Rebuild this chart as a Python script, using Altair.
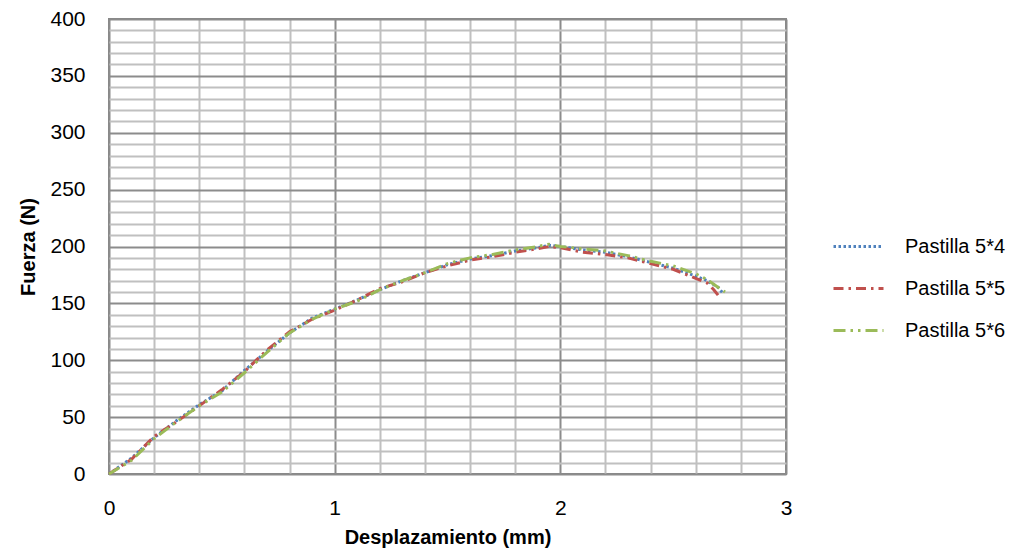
import altair as alt
import pandas as pd

series_names = ["Pastilla 5*4", "Pastilla 5*5", "Pastilla 5*6"]

x_54 = [0, 0.1, 0.2, 0.3, 0.4, 0.5, 0.6, 0.7, 0.8, 0.9, 1.0, 1.1, 1.2, 1.3, 1.4, 1.5, 1.6, 1.7, 1.8, 1.9, 1.95, 2.0, 2.1, 2.2, 2.3, 2.4, 2.5, 2.6, 2.65, 2.7, 2.72]
y_54 = [0, 14, 32, 47, 61, 73, 91, 108, 124, 137, 145, 153, 162, 170, 177, 184, 189, 192, 196, 199, 201, 200, 197, 195, 191, 186, 181, 174, 170, 164, 159]

x_55 = [0, 0.1, 0.2, 0.3, 0.4, 0.5, 0.6, 0.7, 0.8, 0.9, 1.0, 1.1, 1.2, 1.3, 1.4, 1.5, 1.6, 1.7, 1.8, 1.9, 1.95, 2.0, 2.1, 2.2, 2.3, 2.4, 2.5, 2.6, 2.65, 2.68, 2.7]
y_55 = [0, 13, 33, 46, 60, 74, 90, 109, 125, 136, 144, 153, 163, 169, 177, 183, 188, 191, 195, 198, 200, 199, 195, 193, 190, 185, 180, 172, 168, 162, 157]

x_56 = [0, 0.1, 0.2, 0.3, 0.4, 0.5, 0.6, 0.7, 0.8, 0.9, 1.0, 1.1, 1.2, 1.3, 1.4, 1.5, 1.6, 1.7, 1.8, 1.9, 1.95, 2.0, 2.1, 2.2, 2.3, 2.4, 2.5, 2.6, 2.65, 2.7, 2.73]
y_56 = [0, 12, 31, 46, 60, 72, 89, 107, 124, 136, 145, 152, 162, 170, 177, 185, 190, 193, 197, 200, 202, 200, 198, 196, 192, 187, 183, 176, 171, 164, 160]

colors = ["#4F81BD", "#C0504D", "#9BBB59"]
dashes = [[2.5, 2.5], [10, 5, 2.5, 5], [12, 5, 2.5, 5, 2.5, 5]]

x_ticks = [round(i * 0.2, 1) for i in range(16)]
y_ticks = list(range(0, 401, 10))

rows = []
for name, xs, ys in zip(series_names, [x_54, x_55, x_56], [y_54, y_55, y_56]):
    for i, (a, b) in enumerate(zip(xs, ys)):
        rows.append({"serie": name, "x": a, "y": b, "order": i})
df = pd.DataFrame(rows)

FONT = "Liberation Sans"

axis_common = dict(
    labelFont=FONT, labelFontSize=21, labelColor="#000",
    titleFont=FONT, titleFontSize=20, titleFontWeight="bold", titleColor="#000",
    ticks=False, domain=False, gridWidth=2, gridOpacity=1, labelFlush=False,
)

legend_kw = dict(title=None, orient="none", legendX=723, legendY=201,
                 symbolType="stroke", symbolSize=2500, symbolStrokeWidth=3,
                 labelFontSize=20, labelFont=FONT, labelColor="#000",
                 labelOffset=20, rowPadding=5)

chart = alt.Chart(df).mark_line(strokeWidth=3).encode(
    x=alt.X("x:Q", scale=alt.Scale(domain=[0, 3], nice=False),
            axis=alt.Axis(title="Desplazamiento (mm)", values=x_ticks,
                          labelExpr="abs(datum.value - round(datum.value)) < 0.001 ? format(datum.value, 'd') : ''",
                          labelPadding=23, titlePadding=9,
                          gridColor={"condition": {"test": "abs(datum.value - round(datum.value)) < 0.001", "value": "#8c8c8c"}, "value": "#c0c0c0"},
                          **axis_common)),
    y=alt.Y("y:Q", scale=alt.Scale(domain=[0, 400], nice=False),
            axis=alt.Axis(title="Fuerza (N)", values=y_ticks,
                          labelExpr="datum.value % 50 === 0 ? datum.label : ''",
                          labelPadding=24, titlePadding=11,
                          gridColor={"condition": {"test": "datum.value % 50 === 0", "value": "#8c8c8c"}, "value": "#c0c0c0"},
                          **axis_common)),
    color=alt.Color("serie:N", scale=alt.Scale(domain=series_names, range=colors),
                    legend=alt.Legend(**legend_kw)),
    strokeDash=alt.StrokeDash("serie:N", scale=alt.Scale(domain=series_names, range=dashes),
                              legend=alt.Legend(**legend_kw)),
    order="order:Q",
).properties(
    width=677, height=455,
    padding={"left": 10, "top": 0, "right": 5, "bottom": 5},
    background="white",
).configure_view(
    stroke="#878787", strokeWidth=2
)

chart.save("out.html", embed_options={"renderer": "svg", "actions": False})
